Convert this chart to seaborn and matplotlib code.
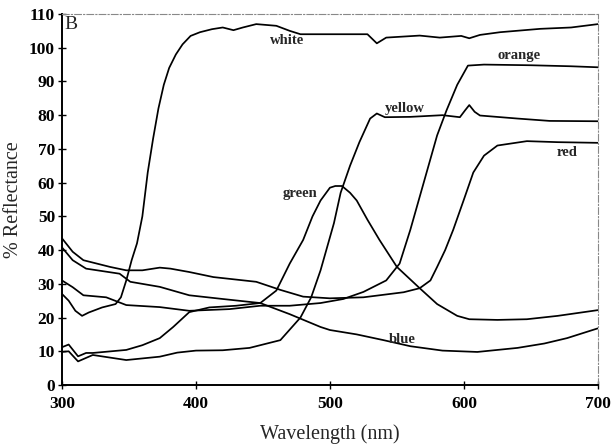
import matplotlib
matplotlib.use("Agg")
import matplotlib.pyplot as plt
import pandas as pd
import seaborn as sns

# reflectance spectra
white_nm = [300, 305, 310, 315, 320, 330, 340, 344, 348, 352, 356, 360, 364, 368, 372, 376,
            380, 385, 390, 396, 403, 412, 420, 428, 435, 445, 460, 470, 478, 500, 528, 535,
            542, 567, 582, 598, 604, 612, 627, 657, 680, 700]
white = [27, 25, 22, 20.5, 21.5, 23, 24, 26, 31, 37, 42, 50, 63, 73, 82, 89,
         94, 98, 101, 103.5, 104.6, 105.5, 106, 105.2, 106, 107, 106.5, 105, 104, 104, 104, 101.3,
         103, 103.6, 103, 103.5, 102.8, 103.8, 104.6, 105.6, 106, 107]

red_nm = [300, 308, 316, 336, 348, 360, 373, 381, 395, 413, 445, 463, 480, 500, 525, 555,
          567, 575, 580, 586, 592, 600, 607, 615, 625, 647, 670, 700]
red = [43.5, 39.5, 37, 35, 34, 34, 34.8, 34.5, 33.5, 32, 30.6, 28.2, 26.2, 25.7, 26, 27.5,
       28.7, 31, 35, 40, 46, 55, 63, 68, 71, 72.3, 72, 71.8]

orange_nm = [300, 308, 316, 333, 348, 373, 395, 425, 448, 470, 493, 510, 525, 542, 552, 560,
             570, 580, 587, 595, 603, 615, 650, 680, 700]
orange = [31, 29, 26.6, 26, 23.7, 23.1, 22, 22.5, 23.5, 23.5, 24.3, 25.5, 27.6, 31, 36, 46,
          60, 74, 81.4, 89, 94.7, 95, 94.8, 94.5, 94.2]

blue_nm = [300, 308, 318, 343, 351, 373, 395, 420, 448, 470, 493, 500, 520, 540, 560, 584,
           610, 640, 660, 677, 700]
blue = [40.8, 37, 34.5, 33, 30.6, 29.1, 26.6, 25.5, 24.3, 21, 17.2, 16.3, 15, 13.3, 11.5, 10.2,
        9.8, 11, 12.3, 13.9, 16.8]

yellow_nm = [300, 305, 312, 323, 348, 373, 386, 400, 420, 440, 463, 478, 486, 493, 498, 503,
             508, 515, 522, 530, 535, 541, 560, 584, 597, 601, 604, 608, 612, 640, 664, 700]
yellow = [9.8, 10, 7, 8.9, 7.4, 8.4, 9.6, 10.2, 10.3, 11, 13.3, 20, 26, 34, 41, 48,
          57, 65, 72, 79, 80.5, 79.4, 79.5, 80, 79.4, 81.5, 83, 81, 79.9, 79, 78.3, 78.2]

green_nm = [300, 305, 312, 318, 323, 348, 360, 373, 383, 395, 410, 430, 448, 460, 470, 480,
            487, 493, 500, 504, 509, 515, 520, 528, 537, 550, 567, 580, 595, 604, 625, 647,
            670, 700]
green = [11.2, 12, 8.5, 9.5, 9.5, 10.4, 11.8, 13.9, 17.2, 21.6, 23, 23.5, 24.3, 28, 36, 43,
         50, 54.7, 58.5, 59, 59, 57, 54.7, 49, 43, 35, 28.7, 24, 20.5, 19.5, 19.3, 19.5,
         20.5, 22.2]

curves = {
    'white': (white_nm, white),
    'red': (red_nm, red),
    'orange': (orange_nm, orange),
    'blue': (blue_nm, blue),
    'yellow': (yellow_nm, yellow),
    'green': (green_nm, green),
}

# label text positions (nm, % reflectance)
labels = {
    'white': (468, 102),
    'yellow': (556, 82),
    'orange': (641, 97.6),
    'red': (677, 69),
    'green': (478, 56.8),
    'blue': (554, 13.6),
}

x_ticks = [300, 400, 500, 600, 700]
y_ticks = list(range(0, 111, 10))

rows = []
for name, (nm, vals) in curves.items():
    for w, r in zip(nm, vals):
        rows.append({'nm': w, 'refl': r, 'sample': name})
df = pd.DataFrame(rows)

sns.set_style("ticks")
plt.rcParams['font.family'] = ['Liberation Serif', 'DejaVu Serif']

fig = plt.figure(figsize=(6.16, 4.47), dpi=100)
ax = fig.add_axes([0.1006, 0.1387, 0.870, 0.830])

sns.lineplot(data=df, x='nm', y='refl', units='sample', estimator=None,
             color='black', linewidth=1.25, sort=False, ax=ax)

for name, (lx, ly) in labels.items():
    ax.text(lx, ly, name, ha='center', va='center', fontsize=10.5, fontweight='bold')

ax.text(302, 106.8, 'B', ha='left', va='center', fontsize=14)

ax.set_xlim(300, 700)
ax.set_ylim(0, 110)
ax.set_xticks(x_ticks)
ax.set_yticks(y_ticks)
ax.tick_params(axis='both', direction='inout', length=6, width=1, colors='black',
               labelsize=12.5)
ax.tick_params(axis='x', pad=5)
ax.tick_params(axis='y', pad=2)
for lab in ax.get_xticklabels() + ax.get_yticklabels():
    lab.set_fontweight('bold')

ax.set_xlabel('Wavelength (nm)', fontsize=14.5, labelpad=9)
ax.set_ylabel('% Reflectance', fontsize=14.5, labelpad=4)

for side in ['left', 'bottom']:
    ax.spines[side].set_color('black')
    ax.spines[side].set_linewidth(1.4)
for side in ['top', 'right']:
    ax.spines[side].set_visible(True)
    ax.spines[side].set_color('#888888')
    ax.spines[side].set_linewidth(0.8)
    ax.spines[side].set_linestyle((0, (6, 2, 1, 2)))

plt.savefig('out.png', dpi=100)
plt.close()
